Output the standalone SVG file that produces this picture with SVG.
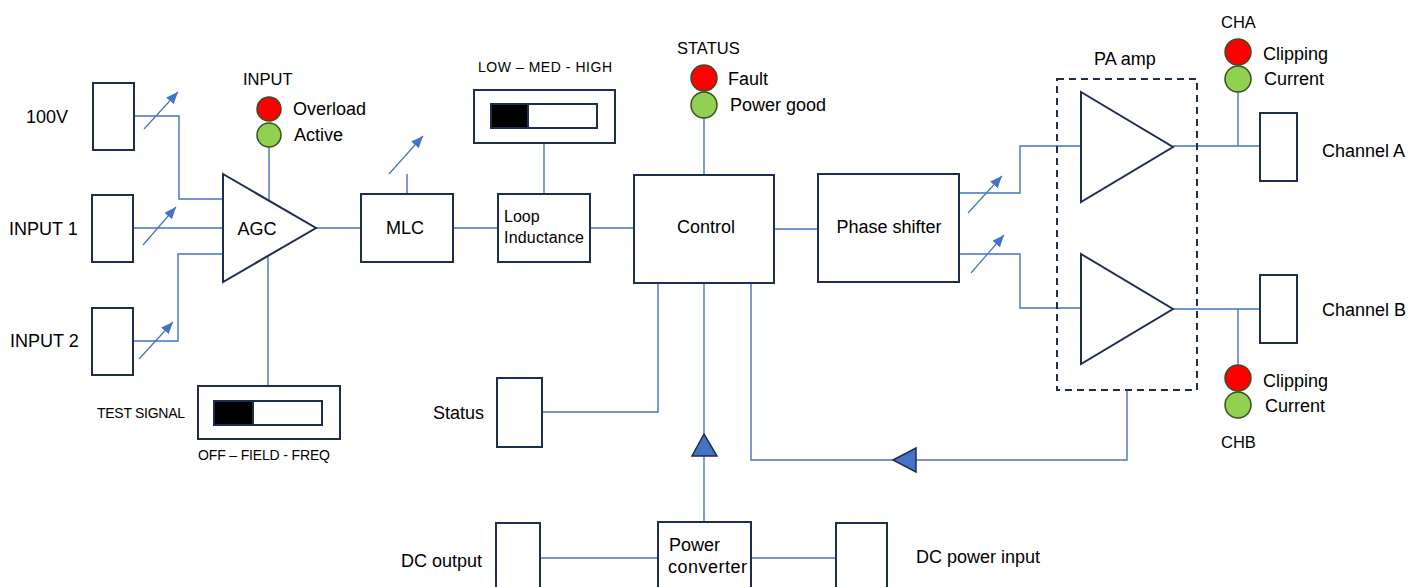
<svg xmlns="http://www.w3.org/2000/svg" width="1410" height="587" viewBox="0 0 1410 587">
<style>
.box{fill:#fff;stroke:#1f2d4e;stroke-width:2}
.tri{fill:#fff;stroke:#1f2d4e;stroke-width:2}
.ln{fill:none;stroke:#4472c4;stroke-width:1.4}
.var{fill:none;stroke:#4472c4;stroke-width:1.2;marker-end:url(#ah)}
.red{fill:#ff0000;stroke:#3a4f22;stroke-width:1.5}
.grn{fill:#92d050;stroke:#3a4f22;stroke-width:1.5}
.dir{fill:#4472c4;stroke:#1f2d4e;stroke-width:1.5}
.sw{fill:#fff;stroke:#1f2d4e;stroke-width:2}
.knob{fill:#000;stroke:#1f2d4e;stroke-width:2}
.pa{fill:none;stroke:#1f2d4e;stroke-width:2;stroke-dasharray:7,5}
text{font-family:"Liberation Sans",Arial,sans-serif;font-size:18px;fill:#000}
.h{font-size:16.5px}
.s{font-size:14px}
.m{font-size:16px}
.c{text-anchor:middle}
</style>
<defs>
<marker id="ah" markerUnits="userSpaceOnUse" markerWidth="12" markerHeight="10" refX="12" refY="5" orient="auto">
<path d="M0,0 L12,5 L0,10 z" fill="#4472c4"/>
</marker>
</defs>

<g id="connectors">
<polyline class="ln" points="134,116 179,116 179,199 223,199"/>
<polyline class="ln" points="133,228 224,228"/>
<polyline class="ln" points="133,341 178,341 178,254 223,254"/>
<polyline class="ln" points="269,147 269,201"/>
<polyline class="ln" points="268,256 268,386"/>
<polyline class="ln" points="316,228 361,228"/>
<polyline class="ln" points="453,228 498,228"/>
<polyline class="ln" points="407,194 407,174"/>
<polyline class="ln" points="544,194 544,143"/>
<polyline class="ln" points="590,228 634,228"/>
<polyline class="ln" points="704,175 704,118"/>
<polyline class="ln" points="774,229 818,229"/>
<polyline class="ln" points="959,193 1020,193 1020,146 1081,146"/>
<polyline class="ln" points="959,254 1020,254 1020,308 1081,308"/>
<polyline class="ln" points="1173,146 1260,146"/>
<polyline class="ln" points="1238,92 1238,146"/>
<polyline class="ln" points="1173,309 1260,309"/>
<polyline class="ln" points="1238,309 1238,365"/>
<polyline class="ln" points="1127,390 1127,460 751,460 751,283"/>
<polyline class="ln" points="658,283 658,412 542,412"/>
<polyline class="ln" points="704,283 704,523"/>
<polyline class="ln" points="540,558 658,558"/>
<polyline class="ln" points="751,558 836,558"/>
<line class="var" x1="144" y1="129" x2="178" y2="92"/>
<line class="var" x1="143" y1="245" x2="176" y2="207"/>
<line class="var" x1="139" y1="359" x2="173" y2="322"/>
<line class="var" x1="389" y1="174" x2="423" y2="136"/>
<line class="var" x1="968" y1="213" x2="1002" y2="176"/>
<line class="var" x1="971" y1="273" x2="1004" y2="235"/>
<polygon class="dir" points="704,434 692,456 717,456"/>
<polygon class="dir" points="893,460 916,448 916,472"/>
</g>

<g id="in100v">
<rect class="box" x="93" y="83" width="41" height="67"/>
<text x="26" y="123">100V</text>
</g>
<g id="input1">
<rect class="box" x="92" y="195" width="41" height="67"/>
<text x="9" y="235">INPUT 1</text>
</g>
<g id="input2">
<rect class="box" x="92" y="308" width="41" height="67"/>
<text x="10" y="347">INPUT 2</text>
</g>

<g id="agc">
<polygon class="tri" points="223,174 316,228 223,282"/>
<text class="c" x="257" y="235">AGC</text>
</g>

<g id="input-leds">
<text class="h" x="243" y="85">INPUT</text>
<circle class="red" cx="269" cy="109" r="12"/>
<circle class="grn" cx="269" cy="135" r="12"/>
<text x="293" y="115">Overload</text>
<text x="294" y="141">Active</text>
</g>

<g id="test-switch">
<rect class="sw" x="198" y="386" width="142" height="53"/>
<rect class="sw" x="214" y="401" width="108" height="24"/>
<rect class="knob" x="214" y="401" width="39" height="24"/>
<text class="s" x="97" y="418" textLength="88">TEST SIGNAL</text>
<text class="s" x="198" y="460" textLength="132">OFF – FIELD - FREQ</text>
</g>

<g id="mlc">
<rect class="box" x="361" y="194" width="92" height="68"/>
<text class="c" x="405" y="234">MLC</text>
</g>

<g id="loop">
<rect class="box" x="498" y="194" width="92" height="68"/>
<text class="m" x="504" y="222">Loop</text>
<text class="m" x="504" y="243" textLength="80">Inductance</text>
</g>

<g id="loop-switch">
<rect class="sw" x="474" y="90" width="141" height="53"/>
<rect class="sw" x="491" y="104" width="106" height="24"/>
<rect class="knob" x="491" y="104" width="37" height="24"/>
<text class="s" x="478" y="72" textLength="134">LOW – MED - HIGH</text>
</g>

<g id="status-leds">
<text class="h" x="677" y="54">STATUS</text>
<circle class="red" cx="704" cy="78" r="13"/>
<circle class="grn" cx="704" cy="105" r="13"/>
<text x="728" y="85">Fault</text>
<text x="730" y="111">Power good</text>
</g>

<g id="control">
<rect class="box" x="634" y="175" width="140" height="108"/>
<text class="c" x="706" y="233">Control</text>
</g>

<g id="status-out">
<rect class="box" x="497" y="378" width="45" height="69"/>
<text x="433" y="419">Status</text>
</g>

<g id="phase">
<rect class="box" x="818" y="174" width="141" height="108"/>
<text class="c" x="889" y="233">Phase shifter</text>
</g>

<g id="pa-amp">
<rect class="pa" x="1057" y="79" width="140" height="311"/>
<text x="1094" y="65">PA amp</text>
<polygon class="tri" points="1081,92 1173,147 1081,202"/>
<polygon class="tri" points="1081,254 1173,309 1081,364"/>
</g>

<g id="cha-leds">
<text class="h" x="1221" y="28">CHA</text>
<circle class="red" cx="1238" cy="52" r="13"/>
<circle class="grn" cx="1238" cy="79" r="13"/>
<text x="1263" y="60">Clipping</text>
<text x="1264" y="85">Current</text>
</g>

<g id="channel-a">
<rect class="box" x="1260" y="113" width="37" height="68"/>
<text x="1322" y="157">Channel A</text>
</g>

<g id="channel-b">
<rect class="box" x="1260" y="275" width="37" height="68"/>
<text x="1322" y="316">Channel B</text>
</g>

<g id="chb-leds">
<circle class="red" cx="1238" cy="378" r="13"/>
<circle class="grn" cx="1238" cy="405" r="13"/>
<text x="1263" y="387">Clipping</text>
<text x="1265" y="412">Current</text>
<text class="h" x="1221" y="448">CHB</text>
</g>

<g id="dc-output">
<rect class="box" x="496" y="523" width="44" height="80"/>
<text x="401" y="567">DC output</text>
</g>

<g id="power-converter">
<rect class="box" x="658" y="522" width="93" height="80"/>
<text x="669" y="551">Power</text>
<text x="668" y="573" textLength="79">converter</text>
</g>

<g id="dc-input">
<rect class="box" x="836" y="523" width="51" height="80"/>
<text x="916" y="563">DC power input</text>
</g>
</svg>
